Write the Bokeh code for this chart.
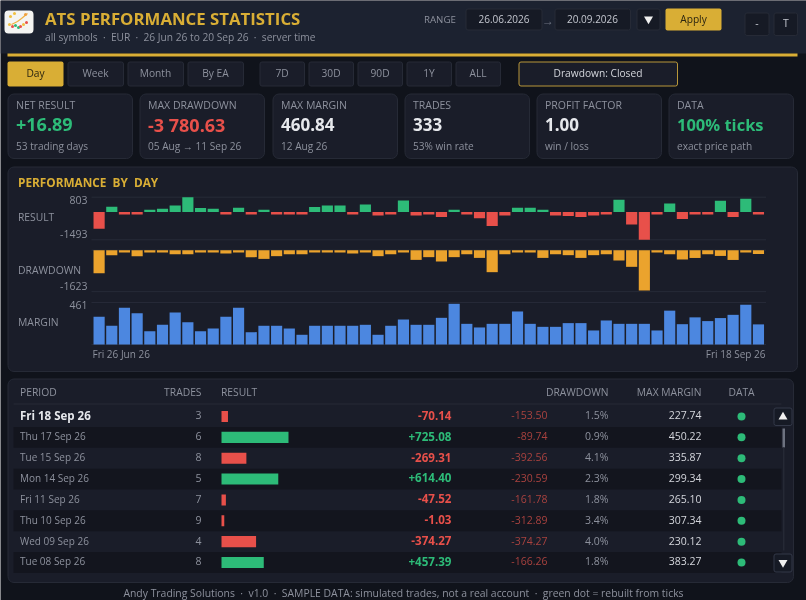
from bokeh.plotting import figure
from bokeh.models import Range1d
from bokeh.core.properties import value
from bokeh.embed import file_html
from bokeh.resources import INLINE
import numpy as np

# ---------- data ----------
result_vals = [-900, 290, -125, -125, 125, 180, 360, 803, 215, 180, -125, 235, -125, 125, -125, -125, -125,
               270, 360, 360, -125, 415, -180, -125, 630, -180, -125, -270, 125, -125, -325, -755, -180,
               235, 235, 125, -180, -215, -270, -180, -125, 665, -665, -1493, -125, 457.39, -374.27,
               -1.03, -47.52, 614.40, -269.31, 725.08, -70.14]
drawdown_vals = [-925, -200, -95, -240, -95, -95, -160, -160, -95, -95, -135, -95, -280, -350, -240, -160, -160,
                 -95, -95, -95, -135, -95, -240, -160, -95, -390, -280, -455, -280, -160, -310, -885, -160,
                 -95, -95, -310, -160, -200, -310, -200, -160, -415, -670, -1623, -95, -166.26, -374.27,
                 -312.89, -161.78, -230.59, -392.56, -89.74, -153.50]
margin_vals = [314, 212, 416, 355, 151, 223, 363, 253, 151, 181, 314, 416, 140, 212, 212, 181, 110,
               212, 212, 212, 212, 223, 110, 212, 283, 223, 223, 302, 460.84, 234, 193, 234, 234,
               374, 234, 200, 200, 242, 242, 159, 272, 234, 234, 234, 159, 383.27, 230.12,
               307.34, 265.10, 299.34, 335.87, 450.22, 227.74]

periods = ["Fri 18 Sep 26", "Thu 17 Sep 26", "Tue 15 Sep 26", "Mon 14 Sep 26",
           "Fri 11 Sep 26", "Thu 10 Sep 26", "Wed 09 Sep 26", "Tue 08 Sep 26"]
row_trades = [3, 6, 8, 5, 7, 9, 4, 8]
row_results = [-70.14, 725.08, -269.31, 614.40, -47.52, -1.03, -374.27, 457.39]
row_drawdowns = [-153.50, -89.74, -392.56, -230.59, -161.78, -312.89, -374.27, -166.26]
row_dd_pct = [1.5, 0.9, 4.1, 2.3, 1.8, 3.4, 4.0, 1.8]
row_margins = [227.74, 450.22, 335.87, 299.34, 265.10, 307.34, 230.12, 383.27]

card_labels = ["NET RESULT", "MAX DRAWDOWN", "MAX MARGIN", "TRADES", "PROFIT FACTOR", "DATA"]
card_values = ["+16.89", "-3 780.63", "460.84", "333", "1.00", "100% ticks"]
card_subs = ["53 trading days", "05 Aug \u2192 11 Sep 26", "12 Aug 26", "53% win rate", "win / loss", "exact price path"]
view_buttons = ["Day", "Week", "Month", "By EA"]
span_buttons = ["7D", "30D", "90D", "1Y", "ALL"]
col_headers = ["PERIOD", "TRADES", "RESULT", "DRAWDOWN", "MAX MARGIN", "DATA"]

# ---------- palette / fonts ----------
PAGE = "#10131b"; HEAD = "#1c2230"; CARD = "#1a1d29"; BORDER = "#262a36"; BTN = "#1a1d29"
GOLD = "#d9ae35"; GREEN = "#2dbb78"; RED = "#e8504a"; ORANGE = "#eba32d"; BLUE = "#4c87e0"
GREY = "#8d919d"; LIGHT = "#e6e8ec"; DIMRED = "#a9423f"
FONT = "Open Sans"
SEP = "\u00a0\u00a0\u00b7\u00a0\u00a0"

# ---------- canvas ----------
p = figure(width=806, height=600, x_range=Range1d(0, 806), y_range=Range1d(600, 0),
           output_backend="svg", toolbar_location=None, min_border=0,
           background_fill_color=PAGE, border_fill_color=PAGE, outline_line_color=None,
           styles={"position": "fixed", "left": "0", "top": "0"})
p.axis.visible = False
p.grid.visible = False

# linear scales for the chart bands: a data range that spans the whole frame
def y_scale(name, v0, px0, v1, px1):
    k = (px1 - px0) / (v1 - v0)
    p.extra_y_ranges[name] = Range1d(start=v0 + (600 - px0) / k, end=v0 + (0 - px0) / k)

def x_scale(name, v0, px0, k):
    p.extra_x_ranges[name] = Range1d(start=v0 - px0 / k, end=v0 + (806 - px0) / k)

x_scale("day", 0, 98.6, 12.68)
y_scale("res", 0, 211.6, 803, 196.7)
y_scale("dd", 0, 249.7, -1623, 290.0)
y_scale("mar", 0, 344.0, 460.84, 303.3)
x_scale("bar", 0, 221, 0.0924)
y_scale("row", 0, 416, 7, 562)
y_scale("rowt", 0, 414.9, 7, 560.9)

def box(x0, y0, x1, y1, fill=None, line=None, r=0, lw=1):
    p.quad(left=[x0], right=[x1], top=[y0], bottom=[y1], fill_color=fill, line_color=line,
           line_width=lw, border_radius=r)

def txt(x, y, s, size=11, color=GREY, align="left", style="normal", **kw):
    dy = 0 if "y_range_name" in kw else -0.8
    dx = -0.5 if align == "left" else 0
    p.text(x=[x + dx], y=[y + dy], text=[s], text_font=value(FONT), text_font_size=f"{size}px", text_color=color,
           text_align=align, text_baseline="middle", text_font_style=style, **kw)

def tri(x, y, size, color, marker):
    p.scatter(x=[x], y=[y], marker=marker, size=size, fill_color=color, line_color=None)

# ---------- header ----------
box(0, 0, 806, 53, HEAD)
box(7, 53, 797, 56, GOLD)
box(4, 10, 33, 33, "#f4f4f2", None, 4)
p.line(x=[11, 17, 21, 27], y=[24, 21, 18, 13], line_color="#f0b040", line_width=1.2)
for dx, dy, c in [(10, 16, "#f0c040"), (12, 26, RED), (15, 25, GREEN), (18, 27, GREEN), (20, 26, RED), (25, 14, "#f0a040"),
                  (23, 24, "#f0c040"), (9, 24, "#f0c040"), (26, 22, RED), (14, 13, "#f0c040")]:
    p.scatter(x=[dx], y=[dy], size=3, fill_color=c, line_color=None)
txt(45, 19, "ATS PERFORMANCE STATISTICS", 16.8, GOLD, style="bold")
txt(45, 37, SEP.join(["all symbols", "EUR", "26 Jun 26 to 20 Sep 26", "server time"]), 10.2)

txt(424, 19.5, "RANGE", 9.7)
box(465.5, 8.5, 541.5, 29.5, "#161a25", BORDER, 2)
txt(503.5, 19.5, "26.06.2026", 10, "#c4c7cf", "center")
txt(547.5, 20.5, "\u2192", 12, "#6d7280", "center")
box(554.5, 8.5, 630, 29.5, "#161a25", BORDER, 2)
txt(592, 19.5, "20.09.2026", 10, "#c4c7cf", "center")
box(636.5, 8.5, 659.5, 29.5, "#161a25", BORDER, 2)
tri(648, 18.5, 9, "#f0f0f0", "inverted_triangle")
box(665, 8, 721, 30, GOLD, None, 2)
txt(693, 19, "Apply", 10.2, "#2a2410", "center")
box(744.5, 12.5, 768.5, 35, "#161a25", BORDER, 2)
txt(756.5, 23.5, "-", 10.5, "#c4c7cf", "center")
box(773.5, 12.5, 797, 35, "#161a25", BORDER, 2)
txt(785.5, 23.5, "T", 10.5, "#c4c7cf", "center")

# ---------- button row ----------
for i, (label, x0) in enumerate(zip(view_buttons, [7, 67, 127, 187])):
    if i == 0:
        box(x0, 61, x0 + 56, 86, GOLD, None, 2)
    else:
        box(x0 + .5, 61.5, x0 + 56, 85.5, BTN, BORDER, 2)
    txt(x0 + 28, 73.5, label, 10.2, "#2a2410" if i == 0 else GREY, "center")
for label, x0 in zip(span_buttons, [259, 308, 357, 406, 455]):
    box(x0 + .5, 61.5, x0 + 45, 85.5, BTN, BORDER, 2)
    txt(x0 + 22.5, 73.5, label, 10.2, GREY, "center")
box(518.5, 61.5, 677, 85.5, BTN, "#b8973a", 2)
txt(597.5, 73.5, "Drawdown: Closed", 10.2, "#d4d6dc", "center")

# ---------- stat cards ----------
card_x = [7, 139, 272, 404, 536, 668]
card_col = [GREEN, RED, LIGHT, LIGHT, LIGHT, GREEN]
card_size = [18, 18, 17, 17, 17, 16.5]
for x0, lab, val, sub, col, fs in zip(card_x, card_labels, card_values, card_subs, card_col, card_size):
    box(x0 + .5, 93.5, x0 + 125, 158, CARD, BORDER, 6)
    txt(x0 + 9, 105.5, lab, 10.5)
    txt(x0 + 9, 125, val, fs, col, style="bold")
    txt(x0 + 9, 146, sub, 10.1)

# ---------- performance panel ----------
box(7.5, 166.5, 797, 371, CARD, BORDER, 6)
txt(18, 182, "PERFORMANCE\u00a0\u00a0BY\u00a0\u00a0DAY", 11.8, GOLD, style="bold")

xs = np.arange(len(result_vals))
res = np.array(result_vals, float)
dd = np.array(drawdown_vals, float)
mar = np.array(margin_vals, float)
res_draw = np.where(np.abs(res) < 125, np.sign(res) * 125, res)
dd_draw = np.where(np.abs(dd) < 95, -95, dd)

for name, top, low in [("res", 803, -1493), ("dd", 0, -1670), ("mar", 475, 0)]:
    p.segment(x0=[-0.6, -0.6], x1=[52.6, 52.6], y0=[top, low], y1=[top, low], line_color="#272b38",
              line_width=1, x_range_name="day", y_range_name=name)

pos = res_draw >= 0
p.vbar(x=xs[pos], top=res_draw[pos], bottom=0, width=0.88, fill_color=GREEN, line_color=None,
       x_range_name="day", y_range_name="res")
p.vbar(x=xs[~pos], top=0, bottom=res_draw[~pos], width=0.88, fill_color=RED, line_color=None,
       x_range_name="day", y_range_name="res")
p.vbar(x=xs, top=0, bottom=dd_draw, width=0.88, fill_color=ORANGE, line_color=None,
       x_range_name="day", y_range_name="dd")
p.vbar(x=xs, top=mar, bottom=0, width=0.88, fill_color=BLUE, line_color=None,
       x_range_name="day", y_range_name="mar")

txt(87, 200, "803", 10.5, GREY, "right")
txt(18, 217, "RESULT", 10.3)
txt(87, 234, "-1493", 10.5, GREY, "right")
txt(18, 270, "DRAWDOWN", 10.4)
txt(87, 286, "-1623", 10.5, GREY, "right")
txt(87, 305, "461", 10.5, GREY, "right")
txt(18, 322, "MARGIN", 10.4)
txt(92.5, 354, periods[0].replace("18 Sep", "26 Jun"), 10)
txt(765, 354, periods[0], 10, GREY, "right")

# ---------- table ----------
box(7.5, 378.5, 793, 582, CARD, BORDER, 6)
for lab, x, al in zip(col_headers, [20, 201, 221, 608, 701, 741], ["left", "right", "left", "right", "right", "center"]):
    txt(x, 392, lab, 10.3, GREY, al)
p.segment(x0=[13], x1=[781], y0=[403.5], y1=[403.5], line_color=BORDER, line_width=1)

rows = np.arange(len(periods))
p.hbar(y=rows[1::2], left=-208 / 0.0924, right=(781 - 221) / 0.0924, height=1.0, fill_color="#13151e", line_color=None,
       x_range_name="bar", y_range_name="row")

rr = np.array(row_results)
bar_len = np.maximum(np.abs(rr), 30)
gp = rr >= 0
p.hbar(y=rows[gp], left=0, right=bar_len[gp], height=0.53, fill_color=GREEN, line_color=None,
       x_range_name="bar", y_range_name="row")
p.hbar(y=rows[~gp], left=0, right=bar_len[~gp], height=0.53, fill_color=RED, line_color=None,
       x_range_name="bar", y_range_name="row")
p.scatter(x=[741] * len(rows), y=rows, size=8, fill_color=GREEN, line_color=None, y_range_name="row")

for i in rows:
    i = int(i)
    kw = dict(y_range_name="rowt")
    v = row_results[i]
    txt(20, i, periods[i], 11.5 if i == 0 else 10, LIGHT if i == 0 else GREY, style="bold" if i == 0 else "normal", **kw)
    txt(201, i, str(row_trades[i]), 10.5, GREY, "right", **kw)
    txt(451, i, f"{v:+.2f}", 11.6, GREEN if v >= 0 else RED, "right", "bold", **kw)
    txt(547, i, f"{row_drawdowns[i]:.2f}", 10.5, DIMRED, "right", **kw)
    txt(608, i, f"{row_dd_pct[i]:.1f}%", 10.5, GREY, "right", **kw)
    txt(701, i, f"{row_margins[i]:.2f}", 10.5, "#d4d6dc", "right", **kw)

box(773.5, 407.5, 791.5, 425, "#161a25", "#333848", 2)
tri(782.5, 416.5, 9, "#f0f0f0", "triangle")
box(782, 428, 784.5, 447, "#6d7280")
box(782.5, 447, 784, 550, "#252935")
box(773.5, 553.5, 791.5, 571.5, "#161a25", "#333848", 2)
tri(782.5, 562, 9, "#f0f0f0", "inverted_triangle")

# ---------- footer ----------
txt(403, 593, SEP.join(["Andy Trading Solutions", "v1.0", "SAMPLE DATA: simulated trades, not a real account",
                        "green dot = rebuilt from ticks"]), 10.4, GREY, "center")

open("out.html", "w").write(file_html(p, INLINE))
